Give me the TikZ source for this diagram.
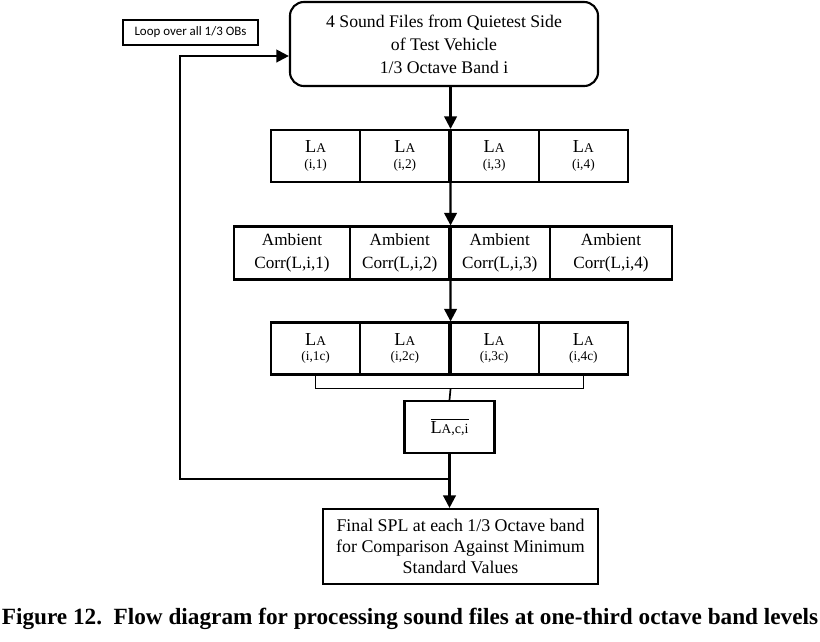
\documentclass[tikz,border=0pt]{standalone}
\usepackage{fontspec}
\setmainfont{Liberation Serif}
\newfontfamily\notefont{Carlito}
\usetikzlibrary{arrows.meta}

\tikzset{
  box/.style={draw, line width=1.5pt, align=center, inner sep=0pt,
    font=\fontsize{12.2}{16}\selectfont},
  cell/.style={box, minimum width=2.231cm, minimum height=1.3cm},
  arr/.style={line width=1.6pt, -{Triangle[length=9pt,width=9pt]}},
  link/.style={line width=1.6pt},
}
\newcommand{\LA}{{\fontsize{13}{13}\selectfont L}{\fontsize{9.5}{9.5}\selectfont A}}
\newcommand{\idx}[1]{{\fontsize{9.5}{10}\selectfont (#1)}}

\begin{document}
\begin{tikzpicture}[x=0.025cm, y=-0.025cm]
    \useasboundingbox (0,0) rectangle (820,641);

    % source files and loop note
    \node[box, rounded corners=0.35cm, minimum width=7.7cm, minimum height=2.1cm,
      font=\fontsize{12.6}{16.3}\selectfont] (top) at (444,44)
      {4 Sound Files from Quietest Side\\of Test Vehicle\\1/3 Octave Band i};
    \node[draw, line width=0.8pt, minimum width=3.375cm, minimum height=0.625cm,
      font=\notefont\fontsize{9.2}{10}\selectfont] (loopnote) at (190.5,32.5)
      {Loop over all 1/3 OBs};

    % A-weighted levels per file
    \foreach \i in {1,...,4}
      \node[cell] (a\i) at ({271+89.25*(\i-0.5)},156) {\LA\\[-5pt]\idx{i,\i}};

    % ambient correction
    \foreach \i/\cx/\w in {1/292/116, 2/399.75/99.5, 3/499.75/100.5, 4/611/122}
      \node[box, minimum width={\w*0.025cm}, minimum height=1.325cm] (b\i)
        at (\cx,253) {Ambient\\Corr(L,i,\i)};

    % corrected levels
    \foreach \i in {1,...,4}
      \node[cell] (c\i) at ({271+89.25*(\i-0.5)},348.5) {\LA\\[-5pt]\idx{i,\i c}};

    % average and final result
    \node[box, minimum width=2.25cm, minimum height=1.3cm] (avg) at (449.5,427)
      {$\overline{\mbox{\LA{\fontsize{10}{10}\selectfont,c,i}}}$};
    \node[box, minimum width=6.875cm, minimum height=1.875cm,
      font=\fontsize{12.7}{15}\selectfont] (final) at (460.5,546.5)
      {Final SPL at each 1/3 Octave band\\for Comparison Against Minimum\\Standard Values};

    \node[font=\bfseries] (caption) at (410,619)
      {\resizebox{20.4cm}{!}{Figure 12.\ \ Flow diagram for processing sound files at one-third octave band levels}};

    % connectors
    \draw[arr] (top.south -| a2.east) -- (a2.north east);
    \draw[link] (a2.north east) -- (a2.south east);
    \draw[arr] (a2.south east) -- (b2.north east);
    \draw[link] (b2.north east) -- (b2.south east);
    \draw[arr] (b2.south east) -- (c2.north east);
    \draw[link] (c2.north east) -- (c2.south east);

    \coordinate (brk) at ([yshift=-0.325cm]c2.south east);
    \draw[line width=1.2pt] (c1.south) |- (brk) -| (c4.south);
    \draw[line width=1.2pt] (brk) -- (avg.north);

    \draw[arr] (avg.south) -- (final.north -| avg.south);

    \coordinate (turn) at (180,479);
    \coordinate (join) at (avg.south |- turn);
    \coordinate (loopin) at ([yshift=-0.3cm]top.west);
    \draw[arr] (join) -- (turn) |- (loopin);
\end{tikzpicture}
\end{document}
